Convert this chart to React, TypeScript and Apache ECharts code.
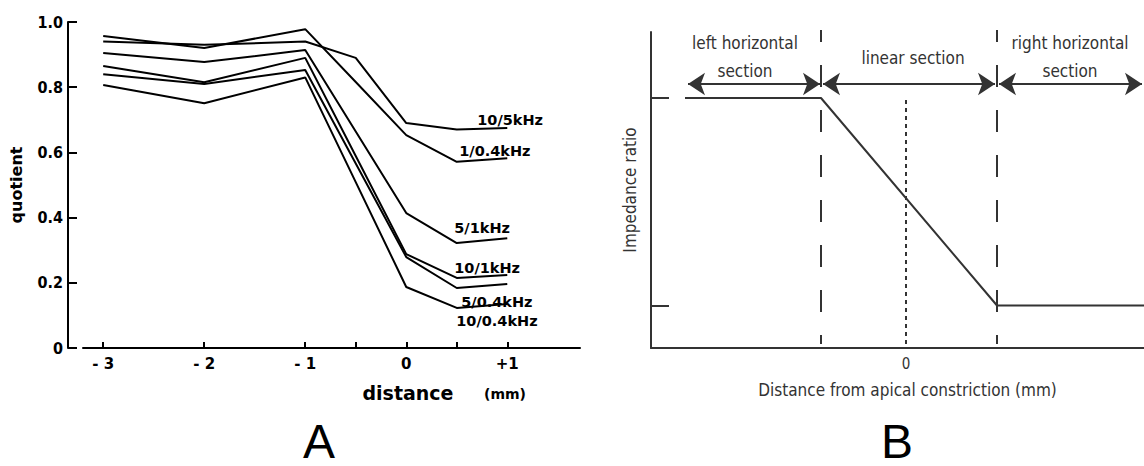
import { useEffect, useRef } from "react";
import * as echarts from "echarts";

// ---------- Panel A data ----------
const distances = [-3, -2, -1, -0.5, 0, 0.5, 1];
const seriesNames = ["10/5kHz", "1/0.4kHz", "5/1kHz", "10/1kHz", "5/0.4kHz", "10/0.4kHz"];
const q10_5 = [0.94, 0.93, 0.94, 0.89, 0.69, 0.67, 0.675];
const q1_04 = [0.957, 0.92, 0.978, 0.816, 0.653, 0.571, 0.582];
const q5_1 = [0.905, 0.877, 0.914, 0.664, 0.414, 0.322, 0.337];
const q10_1 = [0.865, 0.815, 0.89, 0.589, 0.288, 0.215, 0.224];
const q5_04 = [0.84, 0.81, 0.853, 0.566, 0.279, 0.184, 0.196];
const q10_04 = [0.807, 0.751, 0.83, 0.509, 0.187, 0.123, 0.135];
const quotients = [q10_5, q1_04, q5_1, q10_1, q5_04, q10_04];
const labelOffsets = [
  [-30, -8],
  [-48, -7],
  [-53, -10],
  [-53, -7],
  [-46, 18],
  [-51, 17],
];
const xTicksA = [-3, -2, -1, -0.5, 0, 0.5, 1];
const xLabelsA = [-3, -2, -1, 0, 1];

// ---------- Panel B schematic ----------
const bProfileX = [-2.21, -0.85, 0.91, 2.38];
const bProfileY = [1, 1, 0.17, 0.17];
const bBreaks = [-0.85, 0.91];
const bLevelTicks = [0.17, 1];
const bArrowY = 1.056;
const bArrowSpans = [
  [-2.18, -0.86],
  [-0.83, 0.89],
  [0.93, 2.36],
];

const fontA = "'DejaVu Sans', 'Liberation Sans', Arial, sans-serif";
const fontNarrow = "'Liberation Sans Narrow', 'DejaVu Sans Condensed', 'Liberation Sans', sans-serif";
const fontLetter = "'Liberation Sans', Arial, sans-serif";
const fontB = "'Liberation Sans Narrow', 'DejaVu Sans Condensed', 'Roboto Condensed', Roboto, sans-serif";
const colB = "#333";

export default function App() {
  const ref = useRef<HTMLDivElement>(null);
  useEffect(() => {
    if (!ref.current) return;
    const chart = echarts.init(ref.current, undefined, { renderer: "svg" });
    const lineSeries = quotients.map((vals, i) => ({
      type: "line",
      name: seriesNames[i],
      xAxisIndex: 0,
      yAxisIndex: 0,
      data: distances.map((d, j) => [d, vals[j]]),
      showSymbol: false,
      symbol: "none",
      lineStyle: { color: "#000", width: 2 },
      endLabel: {
        show: true,
        formatter: () => seriesNames[i],
        color: "#000",
        fontWeight: "bold",
        fontSize: 14.5,
        fontFamily: fontA,
        distance: 0,
        align: "left",
        verticalAlign: "middle",
        offset: labelOffsets[i],
      },
    }));
    const option: any = {
      animation: false,
      backgroundColor: "#fff",
      grid: [
        { left: 83, top: 22, width: 497, height: 326 },
        { left: 651, top: 32, width: 493, height: 316 },
      ],
      xAxis: [
        {
          type: "value",
          gridIndex: 0,
          min: -3.2,
          max: 1.72,
          axisLine: { onZero: false, lineStyle: { color: "#000", width: 2 } },
          axisTick: { inside: true, length: 6, customValues: xTicksA, lineStyle: { color: "#000", width: 2 } },
          axisLabel: {
            customValues: xLabelsA,
            formatter: (v: number) => (v < 0 ? "- " + Math.abs(v) : v > 0 ? "+" + v : "0"),
            margin: 8,
            color: "#000",
            fontWeight: "bold",
            fontSize: 15,
            fontFamily: fontA,
          },
          splitLine: { show: false },
        },
        {
          type: "value",
          gridIndex: 1,
          min: -2.55,
          max: 2.38,
          axisLine: { onZero: false, lineStyle: { color: colB, width: 2 } },
          axisTick: { show: false },
          axisLabel: { customValues: [0], margin: 8, color: colB, fontSize: 15, fontFamily: fontB },
          splitLine: { show: false },
          name: "Distance from apical constriction (mm)",
          nameLocation: "middle",
          nameGap: 33,
          nameTextStyle: { color: colB, fontSize: 17, fontFamily: fontB, padding: [0, 0, 0, 20] },
        },
      ],
      yAxis: [
        {
          type: "value",
          gridIndex: 0,
          min: 0,
          max: 1,
          interval: 0.2,
          offset: 15,
          axisLine: { show: true, onZero: false, lineStyle: { color: "#000", width: 2 } },
          axisTick: { show: true, inside: true, length: 9, lineStyle: { color: "#000", width: 2 } },
          axisLabel: {
            formatter: (v: number) => (v === 0 ? "0" : v.toFixed(1)),
            margin: 5,
            color: "#000",
            fontWeight: "bold",
            fontSize: 16,
            fontFamily: fontNarrow,
          },
          splitLine: { show: false },
          name: "quotient",
          nameLocation: "middle",
          nameRotate: 90,
          nameGap: 44,
          nameTextStyle: { color: "#000", fontWeight: "bold", fontSize: 16, fontFamily: fontA },
        },
        {
          type: "value",
          gridIndex: 1,
          min: 0,
          max: 1.264,
          axisLine: { show: true, onZero: false, lineStyle: { color: colB, width: 2 } },
          axisTick: { show: true, inside: true, length: 18, customValues: bLevelTicks, lineStyle: { color: colB, width: 2 } },
          axisLabel: { show: false },
          splitLine: { show: false },
          name: "Impedance ratio",
          nameLocation: "middle",
          nameRotate: 90,
          nameGap: 13,
          nameTextStyle: { color: colB, fontSize: 17, fontFamily: fontB },
        },
      ],
      series: [
        ...lineSeries,
        {
          type: "line",
          xAxisIndex: 1,
          yAxisIndex: 1,
          data: bProfileX.map((x, i) => [x, bProfileY[i]]),
          symbol: "none",
          lineStyle: { color: colB, width: 2 },
          clip: false,
        },
        ...bBreaks.map((x) => ({
          type: "line",
          xAxisIndex: 1,
          yAxisIndex: 1,
          data: [
            [x, 1.272],
            [x, 0.016],
          ],
          symbol: "none",
          clip: false,
          lineStyle: { color: colB, width: 2, type: [22, 23], dashOffset: 10 },
        })),
        {
          type: "line",
          xAxisIndex: 1,
          yAxisIndex: 1,
          data: [
            [0, 0.992],
            [0, 0],
          ],
          symbol: "none",
          lineStyle: { color: colB, width: 2, type: [4, 4] },
        },
        {
          type: "lines",
          coordinateSystem: "cartesian2d",
          xAxisIndex: 1,
          yAxisIndex: 1,
          symbol: ["arrow", "arrow"],
          symbolSize: 17,
          lineStyle: { color: colB, width: 2, opacity: 1 },
          itemStyle: { color: colB },
          data: bArrowSpans.map((s) => ({
            coords: [
              [s[0], bArrowY],
              [s[1], bArrowY],
            ],
          })),
        },
      ],
      graphic: [
        { type: "text", x: 408, y: 393, style: { text: "distance", fontWeight: "bold", fontSize: 19, fontFamily: fontA, fill: "#000", align: "center", verticalAlign: "middle" } },
        { type: "text", x: 505, y: 394, style: { text: "(mm)", fontWeight: "bold", fontSize: 14, fontFamily: fontA, fill: "#000", align: "center", verticalAlign: "middle" } },
        { type: "text", x: 745, y: 43, style: { text: "left horizontal", fontSize: 17, fontFamily: fontB, fill: colB, align: "center", verticalAlign: "middle" } },
        { type: "text", x: 745, y: 71, style: { text: "section", fontSize: 17, fontFamily: fontB, fill: colB, align: "center", verticalAlign: "middle" } },
        { type: "text", x: 913, y: 58, style: { text: "linear section", fontSize: 17, fontFamily: fontB, fill: colB, align: "center", verticalAlign: "middle" } },
        { type: "text", x: 1070, y: 43, style: { text: "right horizontal", fontSize: 17, fontFamily: fontB, fill: colB, align: "center", verticalAlign: "middle" } },
        { type: "text", x: 1070, y: 71, style: { text: "section", fontSize: 17, fontFamily: fontB, fill: colB, align: "center", verticalAlign: "middle" } },
        { type: "text", x: 319, y: 441, style: { text: "A", fontSize: 48, fontFamily: fontLetter, fill: "#000", align: "center", verticalAlign: "middle" } },
        { type: "text", x: 897, y: 441, style: { text: "B", fontSize: 48, fontFamily: fontLetter, fill: "#000", align: "center", verticalAlign: "middle" } },
      ],
    };
    chart.setOption(option);
    return () => chart.dispose();
  }, []);
  return <div ref={ref} style={{ position: "absolute", left: 0, top: 0, width: 1144, height: 466 }} />;
}
